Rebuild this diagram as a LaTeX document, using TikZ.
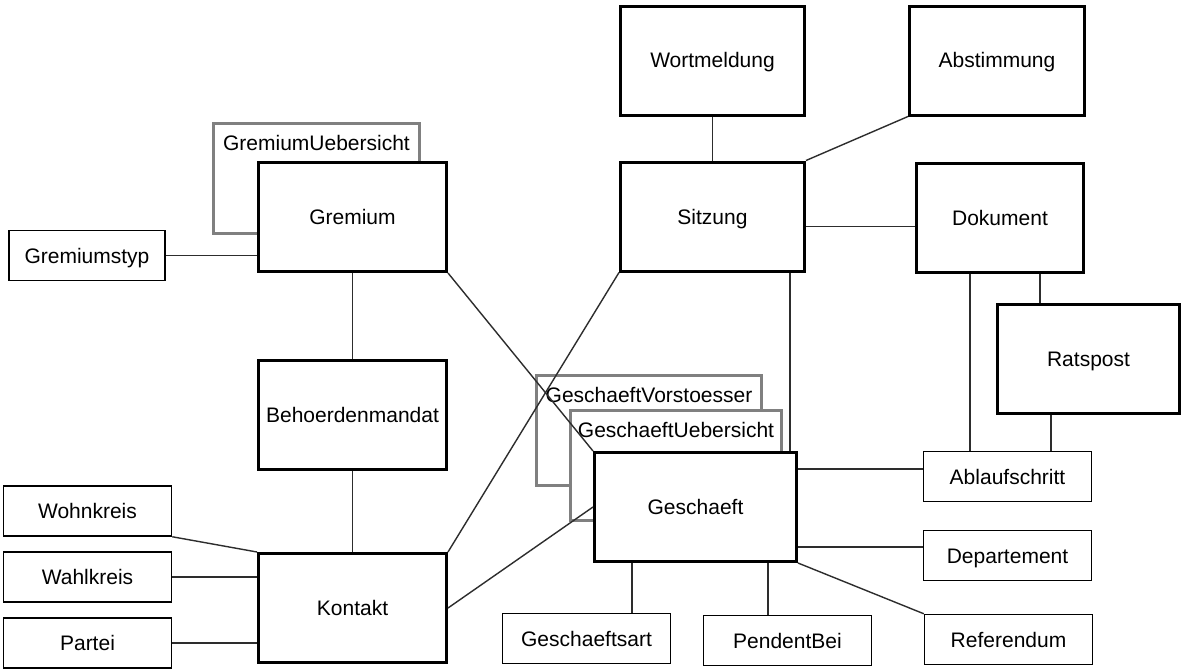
\documentclass[tikz,border=0pt]{standalone}
\usepackage{fontspec}
\setmainfont{Liberation Sans}
\usepackage{tikz}
\usetikzlibrary{positioning}

\definecolor{viewgray}{RGB}{128,128,128}
\definecolor{linkgray}{RGB}{45,45,45}

\begin{document}
\begin{tikzpicture}[
            x = 0.5pt, y = -0.5pt, % one unit per pixel of the schema
            node distance = 33pt, % distance between attribute boxes
            semithick, % line style
            font = \fontsize{10.5}{12}\selectfont,
            text height = 7.5pt, text depth = 0pt % center on the capitals
        ]

        \tikzstyle{entity}=[
            draw,
            line width = 1.5pt,
            fill = white,
            inner sep = 0pt,
            minimum height = 54.5pt
        ]
        \tikzstyle{attr}=[
            draw,
            line width = 0.75pt,
            fill = white,
            inner sep = 0pt,
            minimum width = 84pt,
            minimum height = 25pt
        ]
        \tikzstyle{view}=[
            draw = viewgray,
            line width = 1.5pt,
            fill = white,
            inner sep = 0pt,
            minimum height = 55pt
        ]
        \tikzstyle{viewname}=[anchor = center, yshift = -10.5pt]
        \tikzstyle{link}=[draw = linkgray, line width = 0.7pt]

        \useasboundingbox[fill = white] (0,0) rectangle (1184,669);

	% VIEWS BEHIND THE TABLES
        \node[view, minimum width = 103pt, label={[viewname]north:GremiumUebersicht}] (GremiumUebersicht) at (316.5,178.5) {};
        \node[view, minimum width = 112.5pt, label={[viewname]north:GeschaeftVorstoesser}] (GeschaeftVorstoesser) at (649,430) {};
        \node[view, minimum width = 105.5pt, label={[viewname]north:GeschaeftUebersicht}] (GeschaeftUebersicht) at (676,465.5) {};

	% MAIN TABLES
        \node[entity, minimum width = 92pt] (Wortmeldung) at (712.5,60.5) {Wortmeldung};
        \node[entity, minimum width = 87.5pt] (Abstimmung) at (997,60.5) {Abstimmung};
        \node[entity, minimum width = 94pt] (Gremium) at (352.5,217) {Gremium};
        \node[entity, minimum width = 92pt] (Sitzung) at (712.5,216.5) {Sitzung};
        \node[entity, minimum width = 83.5pt] (Dokument) at (1000,217.5) {Dokument};
        \node[entity, minimum width = 91pt] (Ratspost) at (1088.5,359) {Ratspost};
        \node[entity, minimum width = 94pt] (Behoerdenmandat) at (352.5,415) {Behoerdenmandat};
        \node[entity, minimum width = 101pt] (Geschaeft) at (695.5,507) {Geschaeft};
        \node[entity, minimum width = 94pt] (Kontakt) at (352.5,608) {Kontakt};

	% LOOKUP TABLES
        \node[attr, minimum width = 78pt] (Gremiumstyp) at (87,255.5) {Gremiumstyp};
        \node[attr] (Wohnkreis) at (87.5,511) {Wohnkreis};
        \node[attr] (Wahlkreis) [below of=Wohnkreis] {Wahlkreis};
        \node[attr] (Partei) [below of=Wahlkreis] {Partei};
        \node[attr] (Ablaufschritt) at (1007.5,476.5) {Ablaufschritt};
        \node[attr] (Departement) at (1007.5,555.5) {Departement};
        \node[attr] (Referendum) at (1008.5,639.5) {Referendum};
        \node[attr] (Geschaeftsart) at (586.5,638.5) {Geschaeftsart};
        \node[attr] (PendentBei) at (787.5,640.5) {PendentBei};

	% RELATIONS
        \path[link] (Wortmeldung) -- (Sitzung);
        \path[link] (Abstimmung.south west) -- (Sitzung.north east);
        \path[link] ([yshift=-5pt]Sitzung.east) -- ([yshift=-5pt]Sitzung.east -| Dokument.west);
        \path[link] ([xshift=-8pt]Sitzung.south east) -- ([xshift=-8pt]Sitzung.south east |- Geschaeft.north);
        \path[link] (Sitzung.south west) -- (Kontakt.north east);
        \path[link] ([xshift=27.5pt]Dokument.south west) -- ([xshift=27.5pt]Dokument.south west |- Ablaufschritt.north);
        \path[link] ([xshift=22pt]Ratspost.north west) -- ([xshift=22pt]Ratspost.north west |- Dokument.south);
        \path[link] ([xshift=27.5pt]Ratspost.south west) -- ([xshift=27.5pt]Ratspost.south west |- Ablaufschritt.north);

        \path[link] (Gremiumstyp.east) -- (Gremiumstyp.east -| Gremium.west);
        \path[link] (Gremium) -- (Behoerdenmandat);
        \path[link] (Gremium.south east) -- (Geschaeft.north west);
        \path[link] (Behoerdenmandat) -- (Kontakt);

        \path[link] (Wohnkreis.south east) -- (Kontakt.north west);
        \path[link] (Wahlkreis.east) -- (Wahlkreis.east -| Kontakt.west);
        \path[link] (Partei.east) -- (Partei.east -| Kontakt.west);
        \path[link] (Kontakt.east) -- (Geschaeft.west);

        \path[link] ([yshift=-9pt]Geschaeft.north east) -- ([yshift=-9pt]Geschaeft.north east -| Ablaufschritt.west);
        \path[link] ([yshift=8pt]Geschaeft.south east) -- ([yshift=8pt]Geschaeft.south east -| Departement.west);
        \path[link] (Geschaeft.south east) -- (Referendum.north west);
        \path[link] ([xshift=19.5pt]Geschaeft.south west) -- ([xshift=19.5pt]Geschaeft.south west |- Geschaeftsart.north);
        \path[link] ([xshift=-15pt]Geschaeft.south east) -- ([xshift=-15pt]Geschaeft.south east |- PendentBei.north);

  \end{tikzpicture}
\end{document}
